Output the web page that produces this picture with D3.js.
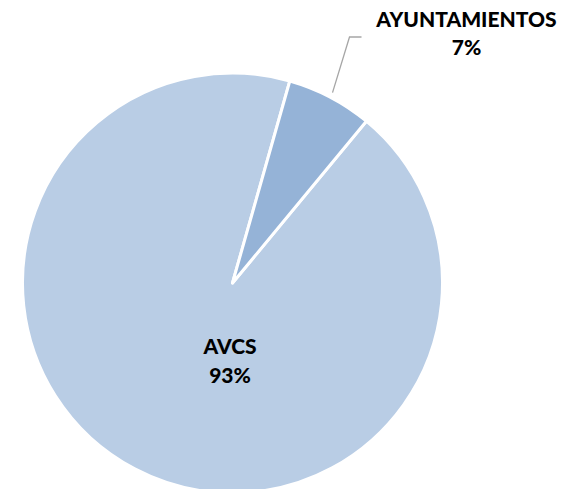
<!DOCTYPE html>
<html>
<head>
<meta charset="utf-8">
<script src="https://cdn.jsdelivr.net/npm/d3@7"></script>
<style>
  body { margin: 0; background: #fff; }
  svg text { font-family: Lato, "Open Sans", sans-serif; font-weight: 900; fill: #000; }
</style>
</head>
<body>
<svg id="canvas"></svg>
<script>
// data
const categories = ["AVCS", "AYUNTAMIENTOS"];
const values = [93.4, 6.6];
const colors = ["#b9cde5", "#95b3d7"];

var w = 563;
var h = 489;
var cx = 232.5;
var cy = 283;
var radius = 210;

var canvas = d3.select("#canvas")
    .attr("width", w)
    .attr("height", h);

var total = d3.sum(values);
var data = categories.map((c, i) => ({ name: c, value: values[i], color: colors[i] }));

// first slice starts a bit past 12 o'clock, like the original
var startAngle = 39.6 * Math.PI / 180;
var pie = d3.pie()
    .value((d) => d.value)
    .sort(null)
    .startAngle(startAngle)
    .endAngle(startAngle + 2 * Math.PI);

var arc = d3.arc()
    .innerRadius(0)
    .outerRadius(radius);

var g = canvas.append("g")
    .attr("transform", "translate(" + cx + "," + cy + ")");

var arcs = pie(data);

g.selectAll("path")
    .data(arcs)
    .enter()
    .append("path")
    .attr("d", arc)
    .style("fill", (d) => d.data.color)
    .style("stroke", "white")
    .style("stroke-width", 3)
    .style("stroke-linejoin", "round");

function pct(d) { return Math.round(d.data.value / total * 100) + "%"; }

// big slice: label inside, below the centre
var big = arcs[0];
var bigLabel = g.append("text")
    .attr("text-anchor", "middle")
    .style("font-size", "21px");
bigLabel.append("tspan").attr("x", -2.5).attr("y", 71).text(big.data.name);
bigLabel.append("tspan").attr("x", -2.5).attr("y", 100).text(pct(big));

// small slice: label outside with leader line
var small = arcs[1];
var a = (small.startAngle + small.endAngle) / 2;
var p0 = [(radius + 5) * Math.sin(a), -(radius + 5) * Math.cos(a)];
var p1 = [p0[0] + 17, -246];
var p2 = [p1[0] + 12, p1[1]];
g.append("polyline")
    .attr("points", [p0, p1, p2].map((p) => p.join(",")).join(" "))
    .style("fill", "none")
    .style("stroke", "#a6a6a6")
    .style("stroke-width", 1.3);

var smallLabel = g.append("text")
    .attr("text-anchor", "middle")
    .style("font-size", "21px");
smallLabel.append("tspan").attr("x", p2[0] + 105).attr("y", -256).text(small.data.name);
smallLabel.append("tspan").attr("x", p2[0] + 105).attr("y", -228).text(pct(small));
</script>
</body>
</html>
